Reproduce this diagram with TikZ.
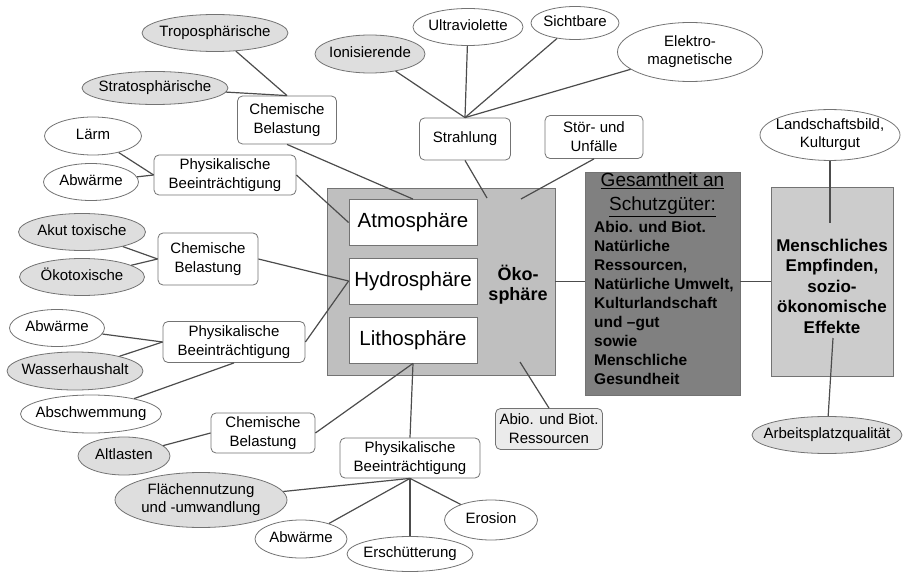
\documentclass[tikz,border=0pt]{standalone}
\usepackage{fontspec}
\setmainfont{Liberation Sans}
\usetikzlibrary{shapes.geometric}

\newcommand{\ovaltext}[1]{\makebox[0pt]{\begin{tabular}{@{}c@{}}#1\end{tabular}}}

\begin{document}
\begin{tikzpicture}[x=1pt, y=-1pt,
    ovalnode/.style={ellipse, draw=black!55, line width=0.8pt, fill=white, inner sep=0pt, font=\fontsize{15}{18}\selectfont},
    greyoval/.style={ovalnode, fill=black!13},
    labelbox/.style={rectangle, rounded corners=5pt, draw=black!55, line width=0.8pt, fill=white, inner sep=2pt, align=center, font=\fontsize{15}{19}\selectfont},
    spherebox/.style={rectangle, draw=black!55, line width=0.8pt, fill=white, minimum width=128pt, minimum height=46pt, font=\fontsize{20.5}{24}\selectfont},
    bigbox/.style={rectangle, draw=black!55, line width=0.8pt},
    edgeline/.style={draw=black!70, line width=1.2pt}]
    \useasboundingbox (0, 0) rectangle (905, 572);

    \node[bigbox, fill=black!25, minimum width=228pt, minimum height=187pt] (oeko) at (441, 281.5) {};
    \node[spherebox] (atmo) at (413, 222.5) {Atmosphäre};
    \node[spherebox] (hydro) at (413, 281) {Hydrosphäre};
    \node[spherebox] (litho) at (413, 340) {Lithosphäre};
    \node[align=center, font=\fontsize{18}{20}\selectfont\bfseries] (oekotext) at (518, 285) {Öko-\\sphäre};

    \node[bigbox, fill=black!50, minimum width=155pt, minimum height=223pt] (gesamt) at (662.5, 283.5) {};
    \node[align=center, font=\fontsize{19}{24}\selectfont] (gesamtkopf) at (662.5, 195) {\underline{Gesamtheit an}\\\underline{Schutzgüter:}};
    \node[align=left, anchor=north west, inner sep=0pt, font=\fontsize{15.5}{19}\selectfont\bfseries] (gesamttext) at (594, 221) {Abio. und Biot.\\Natürliche\\Ressourcen,\\Natürliche Umwelt,\\Kulturlandschaft\\und –gut\\sowie\\Menschliche\\Gesundheit};

    \node[bigbox, fill=black!20, minimum width=122pt, minimum height=189pt] (mbox) at (832, 281.5) {};
    \node[align=center, font=\fontsize{17}{20.5}\selectfont\bfseries] (mensch) at (832, 286) {Menschliches\\Empfinden,\\sozio-\\ökonomische\\Effekte};
    \coordinate (mTop) at (830, 223);
    \coordinate (mBot) at (833, 338);

    \node[greyoval, minimum width=146pt, minimum height=37pt] (tropo) at (215, 33) {\ovaltext{Troposphärische}};
    \node[greyoval, minimum width=146pt, minimum height=33pt] (strato) at (155, 88) {\ovaltext{Stratosphärische}};
    \node[labelbox, minimum width=99pt, minimum height=48pt] (chA) at (287, 120) {Chemische\\Belastung};

    \node[ovalnode, minimum width=97pt, minimum height=38pt] (laerm) at (93, 136) {\ovaltext{Lärm}};
    \node[ovalnode, minimum width=95pt, minimum height=37pt] (abwA) at (91, 182) {\ovaltext{Abwärme}};
    \node[labelbox, minimum width=142pt, minimum height=40pt] (phA) at (225, 175) {Physikalische\\Beeinträchtigung};

    \node[greyoval, minimum width=127pt, minimum height=37pt] (akut) at (82, 232) {\ovaltext{Akut toxische}};
    \node[greyoval, minimum width=125pt, minimum height=37pt] (oekotox) at (82, 277) {\ovaltext{Ökotoxische}};
    \node[labelbox, minimum width=100pt, minimum height=52pt] (chB) at (208, 259) {Chemische\\Belastung};

    \node[ovalnode, minimum width=95pt, minimum height=37pt] (abwB) at (57, 328) {\ovaltext{Abwärme}};
    \node[greyoval, minimum width=136pt, minimum height=38pt] (wasser) at (75, 371) {\ovaltext{Wasserhaushalt}};
    \node[ovalnode, minimum width=141pt, minimum height=38pt] (abschw) at (91, 414) {\ovaltext{Abschwemmung}};
    \node[labelbox, minimum width=142pt, minimum height=41pt] (phB) at (234, 342) {Physikalische\\Beeinträchtigung};

    \node[greyoval, minimum width=92pt, minimum height=38pt] (altlast) at (124, 456) {\ovaltext{Altlasten}};
    \node[labelbox, minimum width=104pt, minimum height=40pt] (chC) at (263, 433) {Chemische\\Belastung};

    \node[labelbox, minimum width=140pt, minimum height=40pt] (phC) at (410, 458) {Physikalische\\Beeinträchtigung};
    \node[greyoval, minimum width=172pt, minimum height=55pt] (flaeche) at (201, 500) {\ovaltext{Flächennutzung\\und -umwandlung}};
    \node[ovalnode, minimum width=92pt, minimum height=38pt] (abwC) at (301, 539) {\ovaltext{Abwärme}};
    \node[ovalnode, minimum width=126pt, minimum height=35pt] (ersch) at (410, 554) {\ovaltext{Erschütterung}};
    \node[ovalnode, minimum width=93pt, minimum height=40pt] (erosion) at (491, 520) {\ovaltext{Erosion}};

    \node[greyoval, minimum width=110pt, minimum height=38pt] (ionis) at (370, 54) {\ovaltext{Ionisierende}};
    \node[ovalnode, minimum width=110pt, minimum height=37pt] (ultra) at (468, 27) {\ovaltext{Ultraviolette}};
    \node[ovalnode, minimum width=88pt, minimum height=33pt] (sicht) at (575, 23) {\ovaltext{Sichtbare}};
    \node[ovalnode, minimum width=145pt, minimum height=59pt] (elektro) at (690, 52) {\ovaltext{Elektro-\\magnetische}};
    \node[labelbox, minimum width=91pt, minimum height=42pt] (strahl) at (465, 139) {Strahlung};
    \node[labelbox, minimum width=98pt, minimum height=43pt] (stoer) at (594, 137) {Stör- und\\Unfälle};
    \node[labelbox, fill=black!8, minimum width=107pt, minimum height=41pt] (abio) at (549, 429) {Abio. und Biot.\\Ressourcen};
    \coordinate (oekoA) at (487, 198);
    \coordinate (oekoB) at (521, 199);
    \coordinate (oekoC) at (520, 362);

    \node[ovalnode, minimum width=140pt, minimum height=50pt] (landschaft) at (830, 135) {\ovaltext{Landschaftsbild,\\Kulturgut}};
    \node[greyoval, minimum width=150pt, minimum height=37pt] (arbeit) at (827, 435) {\ovaltext{Arbeitsplatzqualität}};

    \draw[edgeline] (tropo) -- (chA.north);
    \draw[edgeline] (strato) -- (chA.north);
    \draw[edgeline] (chA.south) -- (atmo.north);
    \draw[edgeline] (laerm) -- (phA.west);
    \draw[edgeline] (abwA) -- (phA.west);
    \draw[edgeline] (phA.east) -- (atmo.west);
    \draw[edgeline] (akut) -- (chB.west);
    \draw[edgeline] (oekotox) -- (chB.west);
    \draw[edgeline] (chB.east) -- (hydro.west);
    \draw[edgeline] (abwB) -- (phB.west);
    \draw[edgeline] (wasser) -- (phB.west);
    \draw[edgeline] (abschw) -- (phB.south);
    \draw[edgeline] (phB.east) -- (hydro.west);
    \draw[edgeline] (altlast) -- (chC.west);
    \draw[edgeline] (chC.east) -- (litho.south);
    \draw[edgeline] (litho.south) -- (phC.north);
    \draw[edgeline] (phC.south) -- (flaeche);
    \draw[edgeline] (phC.south) -- (abwC);
    \draw[edgeline] (phC.south) -- (ersch);
    \draw[edgeline] (phC.south) -- (erosion);
    \draw[edgeline] (ionis) -- (strahl.north);
    \draw[edgeline] (ultra) -- (strahl.north);
    \draw[edgeline] (sicht) -- (strahl.north);
    \draw[edgeline] (elektro) -- (strahl.north);
    \draw[edgeline] (strahl.south) -- (oekoA);
    \draw[edgeline] (stoer.south) -- (oekoB);
    \draw[edgeline] (abio.north) -- (oekoC);
    \draw[edgeline] (oeko.east) -- (oeko.east -| gesamt.west);
    \draw[edgeline] (gesamt.east |- mbox.west) -- (mbox.west);
    \draw[edgeline] (landschaft) -- (mTop);
    \draw[edgeline] (mBot) -- (arbeit);
  \end{tikzpicture}
\end{document}
